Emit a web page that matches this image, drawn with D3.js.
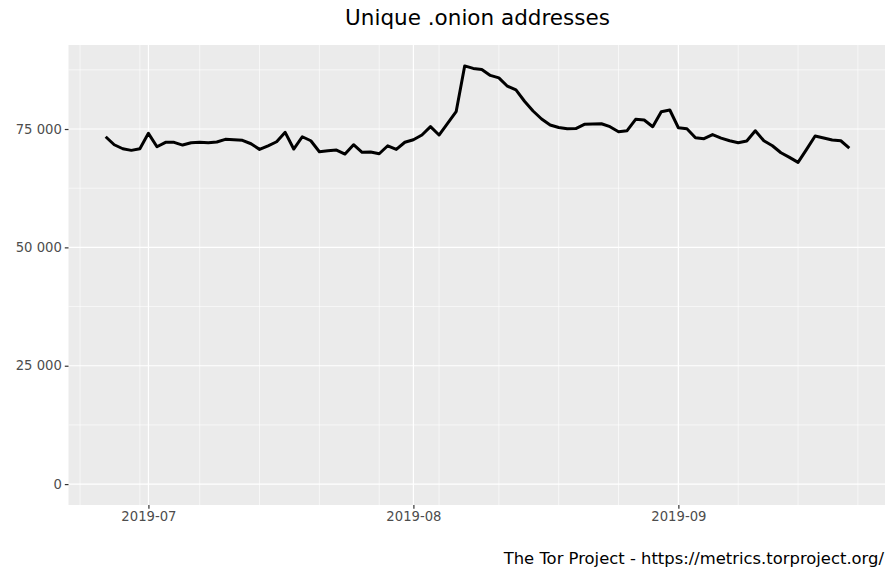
<!DOCTYPE html>
<html>
<head>
<meta charset="utf-8">
<script src="https://cdn.jsdelivr.net/npm/d3@7"></script>
<style>
  body { margin: 0; background: #fff; }
  svg { display: block; font-family: "DejaVu Sans", sans-serif; }
</style>
</head>
<body>
<svg id="chart" width="885" height="570"></svg>
<script>
const startDate = "2019-06-26";
const values = [
  73370, 71680, 70830, 70490, 70830, 74090, 71250, 72180, 72180, 71610,
  72100, 72180, 72100, 72250, 72820, 72730, 72610, 71890, 70700, 71460,
  72310, 74300, 70770, 73370, 72520, 70190, 70410, 70550, 69710, 71680,
  70070, 70130, 69770, 71460, 70700, 72200, 72730, 73730, 75490, 73730,
  76200, 78660, 88330, 87800, 87590, 86320, 85790, 84040, 83250, 80860,
  78810, 77120, 75850, 75320, 75040, 75100, 75990, 76060, 76120, 75490,
  74430, 74640, 77050, 76900, 75490, 78660, 79020, 75270, 75060, 73160,
  72950, 73830, 73090, 72520, 72100, 72460, 74640, 72520, 71460, 69980,
  69010, 67950, 70700, 73520, 73090, 72670, 72520, 70980
];
const yTicks = [0, 25000, 50000, 75000];
const yTickLabels = ["0", "25 000", "50 000", "75 000"];
const xTicks = ["2019-07-01", "2019-08-01", "2019-09-01"];
const xTickLabels = ["2019-07", "2019-08", "2019-09"];
const titleText = "Unique .onion addresses";
const captionText = "The Tor Project - https://metrics.torproject.org/";

const parse = d3.utcParse("%Y-%m-%d");
const t0 = parse(startDate);
const data = values.map((v, i) => ({ date: d3.utcDay.offset(t0, i), value: v }));

const svg = d3.select("#chart");
const panel = { left: 68.5, right: 886.5, top: 45, bottom: 505 };

const xExt = d3.extent(data, d => d.date);
const xSpan = xExt[1] - xExt[0];
const x = d3.scaleUtc()
  .domain([new Date(+xExt[0] - 0.05 * xSpan), new Date(+xExt[1] + 0.05 * xSpan)])
  .range([panel.left, panel.right]);

const yMax = d3.max(values);
const y = d3.scaleLinear()
  .domain([-0.05 * yMax, 1.05 * yMax])
  .range([panel.bottom, panel.top]);

// panel background
svg.append("rect")
  .attr("x", panel.left).attr("y", panel.top)
  .attr("width", panel.right - panel.left).attr("height", panel.bottom - panel.top)
  .attr("fill", "#EBEBEB");

const grid = svg.append("g");

// minor y gridlines
const yMinor = d3.range(12500, yMax, 25000);
grid.selectAll(".ymin").data(yMinor).join("line")
  .attr("x1", panel.left).attr("x2", panel.right)
  .attr("y1", d => y(d)).attr("y2", d => y(d))
  .attr("stroke", "#fff").attr("stroke-width", 0.6);

// minor x gridlines (weekly, Sundays)
const xMinor = d3.utcSunday.range(x.domain()[0], x.domain()[1]);
grid.selectAll(".xmin").data(xMinor).join("line")
  .attr("x1", d => x(d)).attr("x2", d => x(d))
  .attr("y1", panel.top).attr("y2", panel.bottom)
  .attr("stroke", "#fff").attr("stroke-width", 0.6);

// major y gridlines
grid.selectAll(".ymaj").data(yTicks).join("line")
  .attr("x1", panel.left).attr("x2", panel.right)
  .attr("y1", d => y(d)).attr("y2", d => y(d))
  .attr("stroke", "#fff").attr("stroke-width", 1.2);

// major x gridlines
const xTickDates = xTicks.map(parse);
grid.selectAll(".xmaj").data(xTickDates).join("line")
  .attr("x1", d => x(d)).attr("x2", d => x(d))
  .attr("y1", panel.top).attr("y2", panel.bottom)
  .attr("stroke", "#fff").attr("stroke-width", 1.2);

// line
const line = d3.line().x(d => x(d.date)).y(d => y(d.value));
svg.append("path")
  .datum(data)
  .attr("d", line)
  .attr("fill", "none")
  .attr("stroke", "#000")
  .attr("stroke-width", 3)
  .attr("stroke-linejoin", "round");

// axes
const xAxis = d3.axisBottom(x)
  .tickValues(xTickDates)
  .tickFormat((d, i) => xTickLabels[i])
  .tickSize(3.7).tickPadding(3);
const gx = svg.append("g").attr("transform", `translate(0,${panel.bottom})`).call(xAxis);
gx.select(".domain").remove();
gx.selectAll(".tick line").attr("stroke", "#333333").attr("stroke-width", 1.2);
gx.selectAll(".tick text").attr("fill", "#4D4D4D").attr("font-size", "13.2px")
  .attr("font-family", "DejaVu Sans, sans-serif");

const yAxis = d3.axisLeft(y)
  .tickValues(yTicks)
  .tickFormat((d, i) => yTickLabels[i])
  .tickSize(3.7).tickPadding(3);
const gy = svg.append("g").attr("transform", `translate(${panel.left},0)`).call(yAxis);
gy.select(".domain").remove();
gy.selectAll(".tick line").attr("stroke", "#333333").attr("stroke-width", 1.2);
gy.selectAll(".tick text").attr("fill", "#4D4D4D").attr("font-size", "13.2px")
  .attr("font-family", "DejaVu Sans, sans-serif");

// title
svg.append("text")
  .attr("x", (panel.left + panel.right) / 2)
  .attr("y", 25)
  .attr("text-anchor", "middle")
  .attr("font-size", "21.5px")
  .attr("fill", "#000")
  .text(titleText);

// caption (right-aligned to the page edge)
svg.append("text")
  .attr("x", 884)
  .attr("y", 564)
  .attr("text-anchor", "end")
  .attr("font-size", "16.4px")
  .attr("fill", "#000")
  .text(captionText);
</script>
</body>
</html>
